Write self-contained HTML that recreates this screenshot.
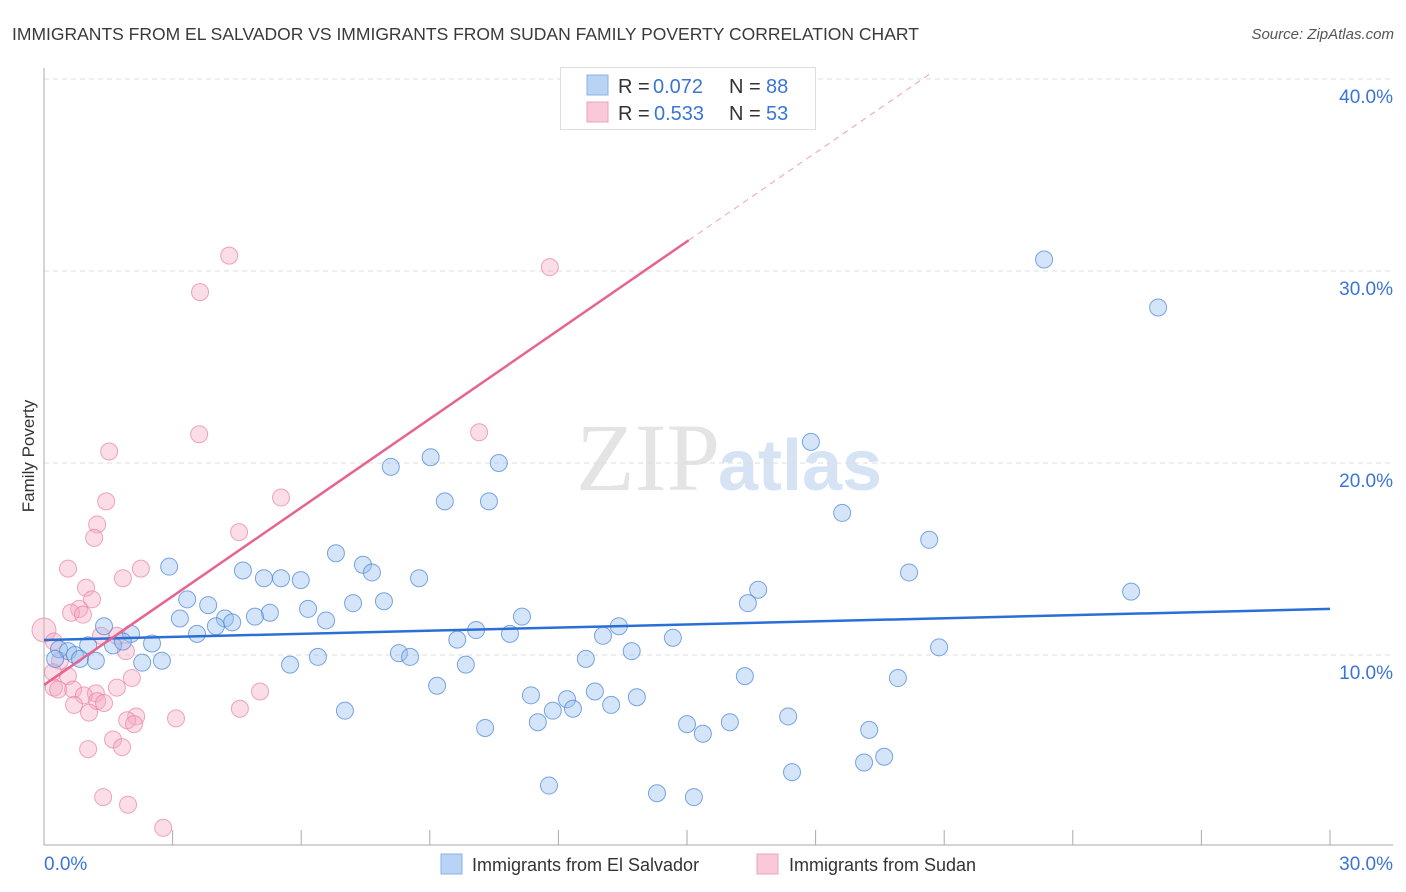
<!DOCTYPE html>
<html><head><meta charset="utf-8"><style>
body{margin:0;background:#fff;font-family:"Liberation Sans",sans-serif;}
#wrap{position:relative;width:1406px;height:892px;overflow:hidden}
</style></head><body>
<div id="wrap">
<svg id="chart" width="1406" height="892" xmlns="http://www.w3.org/2000/svg">
<text x="12" y="40" font-size="17.5" fill="#3a3a3a">IMMIGRANTS FROM EL SALVADOR VS IMMIGRANTS FROM SUDAN FAMILY POVERTY CORRELATION CHART</text>
<text x="1394" y="39" font-size="15" fill="#555" font-style="italic" text-anchor="end">Source: ZipAtlas.com</text>
<text x="34" y="456" font-size="17" fill="#333" text-anchor="middle" transform="rotate(-90 34 456)">Family Poverty</text>
<text x="720" y="490" font-size="96" fill="#e4e4e4" text-anchor="end" font-family="Liberation Serif, serif">ZIP</text>
<text x="718" y="490" font-size="72" fill="#d5e3f5" font-weight="bold">atlas</text>
<g id="grid"></g><g id="marks"></g><g id="lines"></g>
<g>
<rect x="560.5" y="67.5" width="255" height="62" fill="#fff" stroke="#ddd"/>
<rect x="587" y="75" width="21" height="20" fill="#b9d3f5" stroke="#8ab2e6"/>
<rect x="587" y="102" width="21" height="20" fill="#f9c9d8" stroke="#efa1bb"/>
<text y="93" font-size="20"><tspan x="618" fill="#333">R = </tspan><tspan x="653" fill="#3a75d6">0.072</tspan><tspan x="729" fill="#333">N = </tspan><tspan x="766" fill="#3a75d6">88</tspan></text>
<text y="120" font-size="20"><tspan x="618" fill="#333">R = </tspan><tspan x="654" fill="#3a75d6">0.533</tspan><tspan x="729" fill="#333">N = </tspan><tspan x="766" fill="#3a75d6">53</tspan></text>
</g>
<g>
<rect x="441" y="854" width="21" height="20" fill="#b9d3f5" stroke="#8ab2e6"/>
<text x="472" y="871" font-size="18" fill="#333">Immigrants from El Salvador</text>
<rect x="757" y="854" width="21" height="20" fill="#f9c9d8" stroke="#efa1bb"/>
<text x="789" y="871" font-size="18" fill="#333">Immigrants from Sudan</text>
</g>
</svg>
</div>
<script>
const xTicks=[0,30];
const yTicks=[10,20,30,40];
const blueX=[23.33,25.99,17.89,8.09,9.02,10.61,9.35,10.38,18.62,20.65,2.92,6.81,7.44,7.65,4.64,5.13,5.53,5.99,8.75,20.18,16.66,25.36,3.34,3.83,7.21,7.93,16.42,5.27,6.16,3.17,4.22,4.39,4.92,6.58,11.15,13.41,1.40,2.03,3.57,4.01,10.08,9.64,10.87,13.04,14.67,1.03,1.61,2.52,1.84,0.35,0.56,0.72,0.26,0.84,1.21,2.29,2.75,6.39,8.28,8.54,12.64,13.71,20.88,5.74,9.84,9.17,16.35,19.92,11.36,12.2,12.85,13.83,7.02,11.87,12.34,13.23,11.52,10.29,15.0,16.0,17.36,15.37,19.25,19.13,19.6,17.45,11.78,14.3,15.16];
const blueY=[30.6,28.1,21.1,19.8,20.3,20.0,18.0,18.0,17.4,16.0,14.6,15.3,14.7,14.3,14.4,14.0,14.0,13.9,14.0,14.3,13.4,13.3,12.9,12.6,12.7,12.8,12.7,12.2,12.4,11.9,11.9,11.7,12.0,11.8,12.0,11.5,11.5,11.1,11.1,11.5,11.3,10.8,11.1,11.0,10.9,10.5,10.5,10.6,10.7,10.3,10.2,10.0,9.8,9.8,9.7,9.6,9.7,9.9,10.1,9.9,9.8,10.2,10.4,9.5,9.5,8.4,8.9,8.8,7.9,7.7,8.1,7.8,7.1,7.1,7.2,7.4,6.5,6.2,6.4,6.5,6.8,5.9,6.1,4.4,4.7,3.9,3.2,2.8,2.6];
const pinkX=[4.32,11.8,3.64,3.62,10.15,1.52,1.45,5.53,1.24,1.17,4.55,0.56,2.26,1.84,0.98,1.12,0.82,0.63,0.91,0,1.70,1.33,0.23,1.91,0.37,0.21,0.56,2.05,1.70,0.23,0.33,0.68,5.04,1.21,0.93,1.24,0.70,1.40,1.05,4.57,3.08,2.15,1.94,2.10,1.61,1.82,1.03,1.38,1.96,2.78];
const pinkY=[30.8,30.2,28.9,21.5,21.6,20.6,18.0,18.2,16.8,16.1,16.4,14.5,14.5,14.0,13.5,12.9,12.4,12.2,12.1,11.3,11.0,11.0,10.7,10.2,9.7,9.1,8.9,8.8,8.3,8.3,8.2,8.2,8.1,8.0,7.9,7.6,7.4,7.5,7.0,7.2,6.7,6.8,6.6,6.4,5.6,5.2,5.1,2.6,2.2,1.0];
const blueFit=[10.78,0.054];
const pinkFit=[8.44,1.54];
const NS='http://www.w3.org/2000/svg';
const X=v=>44+v/30*1286, Y=v=>847-v*19.2;
function mk(t,a,p){const e=document.createElementNS(NS,t);for(const k in a)e.setAttribute(k,a[k]);p.appendChild(e);return e;}
const grid=document.getElementById('grid');
yTicks.forEach(t=>{
 const l=mk('line',{x1:44,x2:1393,y1:Y(t),y2:Y(t),stroke:'#ddd','stroke-dasharray':'5,4'},grid);
 
 
 const tx=mk('text',{x:1393,y:Y(t)+24,'font-size':19,fill:'#3a75d6','text-anchor':'end'},grid);
 tx.textContent=t.toFixed(1)+'%';
 
 
});
const ax=mk('line',{x1:44,x2:44,y1:68,y2:845,stroke:'#aaa'},grid);


const bx=mk('line',{x1:44,x2:1393,y1:845,y2:845,stroke:'#aaa'},grid);


for(let i=1;i<=10;i++){
 const t=mk('line',{x1:X(i*3),x2:X(i*3),y1:830,y2:845,stroke:'#aaa'},grid);
 
 
}
xTicks.forEach(t=>{
 const tx=mk('text',{x:t===0?44:1393,y:870,'font-size':19,fill:'#3a75d6','text-anchor':t===0?'start':'end'},grid);
 tx.textContent=t.toFixed(1)+'%';
 
 
});
const marks=document.getElementById('marks');
pinkX.forEach((v,i)=>{
 const c=mk('circle',{cx:X(v),cy:Y(pinkY[i]),r:v===0?12:8.5,fill:'rgba(246,170,196,0.4)',stroke:'rgba(232,130,165,0.7)','stroke-width':1},marks);
 
 
});
blueX.forEach((v,i)=>{
 const c=mk('circle',{cx:X(v),cy:Y(blueY[i]),r:8.5,fill:'rgba(150,190,240,0.4)',stroke:'rgba(70,130,215,0.7)','stroke-width':1},marks);
 
 
});
const lines=document.getElementById('lines');
const bl=mk('line',{x1:X(0),y1:Y(blueFit[0]),x2:X(30),y2:Y(blueFit[0]+blueFit[1]*30),stroke:'#2a6fd6','stroke-width':2.5},lines);


const pl=mk('line',{x1:X(0),y1:Y(pinkFit[0]),x2:X(15.04),y2:Y(pinkFit[0]+pinkFit[1]*15.04),stroke:'#e6648f','stroke-width':2.5},lines);


const xe=(40.3-pinkFit[0])/pinkFit[1];
const pd=mk('line',{x1:X(15.04),y1:Y(pinkFit[0]+pinkFit[1]*15.04),x2:X(xe),y2:Y(40.3),stroke:'#eda0ba','stroke-width':1,'stroke-dasharray':'6,5'},lines);


</script>
</body></html>
